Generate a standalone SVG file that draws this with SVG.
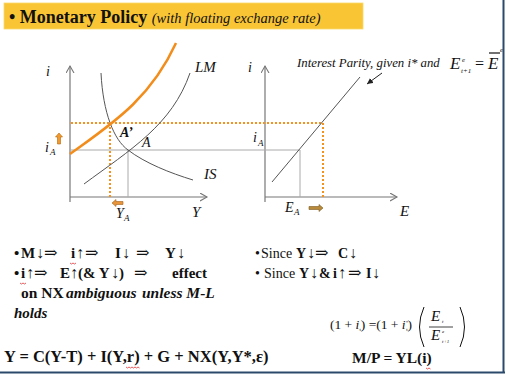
<svg xmlns="http://www.w3.org/2000/svg" width="506" height="375" viewBox="0 0 506 375">
<defs>
<marker id="open" markerWidth="10" markerHeight="10" refX="7" refY="4" orient="auto" markerUnits="userSpaceOnUse">
<path d="M0,0 L7,4 L0,8" fill="none" stroke="#777" stroke-width="1.1"/>
</marker>
<marker id="solid" markerWidth="8" markerHeight="8" refX="6" refY="3" orient="auto" markerUnits="userSpaceOnUse">
<path d="M0,0 L6,3 L0,6 Z" fill="#222"/>
</marker>
<style>
text{font-family:"Liberation Serif","DejaVu Serif",serif;fill:#111}
.it{font-style:italic}
.b{font-weight:bold}
.ar{font-weight:normal;font-size:16px}
.ax{stroke:#777;stroke-width:1.2;fill:none}
.cur{stroke:#555;stroke-width:1;fill:none}
.guide{stroke:#aaa;stroke-width:1;fill:none}
.dot{stroke:#F5921E;stroke-width:2;stroke-dasharray:2,2;fill:none}
.orange{stroke:#F28C1A;stroke-width:2.5;fill:none}
.sq{stroke:#d33;stroke-width:0.8;fill:none}
</style>
</defs>
<rect width="506" height="375" fill="#fff"/>
<g id="header">
<rect x="4" y="3" width="359" height="26" fill="#F9C535" stroke="#FBD96A" stroke-width="0.8"/>
<text x="9" y="23" class="b" font-size="18">• Monetary Policy <tspan class="it" font-weight="normal" font-size="14.5">(with floating exchange rate)</tspan></text>
</g>
<g id="connectors">
<line class="ax" x1="70" y1="202" x2="70" y2="66" marker-end="url(#open)"/>
<line class="ax" x1="70" y1="197" x2="207" y2="197" marker-end="url(#open)"/>
<line class="ax" x1="265" y1="202" x2="265" y2="66" marker-end="url(#open)"/>
<line class="ax" x1="265" y1="197" x2="397" y2="197" marker-end="url(#open)"/>
<line class="guide" x1="70" y1="150" x2="300" y2="150"/>
<line class="guide" x1="128" y1="150" x2="128" y2="197"/>
<line class="guide" x1="300" y1="150" x2="300" y2="197"/>
<path class="dot" d="M71,123 H323 V197"/>
<path class="dot" d="M110,123 V197"/>
<line x1="382" y1="73" x2="367" y2="84" stroke="#222" stroke-width="1" marker-end="url(#solid)"/>
</g>
<g id="curve-IS"><path class="cur" d="M101,73 C103,113 114,140 128,150 C145,163 170,173 193,180"/></g>
<g id="curve-LM"><path class="cur" d="M84,184 C130,150 172,125 190,73"/></g>
<g id="curve-LM-new"><path class="orange" d="M70,154 C110,125 150,100 176,43"/></g>
<g id="curve-IP"><line class="cur" x1="272" y1="182" x2="360" y2="77"/></g>
<g id="labels-left">
<text x="46" y="76" class="it" font-size="14">i</text>
<text x="45" y="152" class="it" font-size="14">i</text><text x="50" y="155" class="it" font-size="9">A</text>
<polygon points="59,133 62.5,137 60.5,137 60.5,144 57.5,144 57.5,137 55.5,137" fill="#F39A2E" stroke="#B0660F" stroke-width="0.6"/>
<text x="195" y="72" class="it" font-size="15">LM</text>
<text x="204" y="179" class="it" font-size="15">IS</text>
<text x="120" y="137" class="it b" font-size="14">A’</text>
<text x="142" y="147" class="it" font-size="14">A</text>
<polygon points="112,203 116,199.5 116,201.5 123,201.5 123,204.5 116,204.5 116,206.5" fill="#E8943A" stroke="#A4621A" stroke-width="0.6"/>
<text x="116" y="218" class="it" font-size="14">Y</text><text x="124" y="221" class="it" font-size="9">A</text>
<text x="192" y="217" class="it" font-size="15">Y</text>
</g>
<g id="labels-right">
<text x="248" y="72" class="it" font-size="14">i</text>
<text x="253" y="142" class="it" font-size="14">i</text><text x="258" y="146" class="it" font-size="9">A</text>
<text x="285" y="212" class="it" font-size="14">E</text><text x="294" y="215" class="it" font-size="9">A</text>
<polygon points="323,208 319,204.5 319,206.5 309,206.5 309,209.5 319,209.5 319,211.5" fill="#B98A3A" stroke="#7A5A20" stroke-width="0.6"/>
<text x="400" y="216" class="it" font-size="15">E</text>
<text x="297" y="67" class="it" font-size="12.8">Interest Parity, given i* and</text>
<text x="450" y="69" class="it" font-size="17">E</text>
<text x="462" y="62" class="it" font-size="7">e</text>
<text x="461" y="73" class="it" font-size="7">t+1</text>
<text x="475" y="69" font-size="16">=</text>
<text x="488" y="69" class="it" font-size="17">E</text>
<line x1="489" y1="53" x2="500" y2="53" stroke="#111" stroke-width="1.2"/>
<text x="500" y="52" class="it" font-size="7">e</text>
</g>
<g id="text-left">
<text y="258" class="b" font-size="15"><tspan x="14">•</tspan><tspan x="21">M</tspan><tspan x="36" class="ar">↓</tspan><tspan x="44" class="ar">⇒</tspan><tspan x="71">i</tspan><tspan x="76" class="ar">↑</tspan><tspan x="85" class="ar">⇒</tspan><tspan x="115">I</tspan><tspan x="122" class="ar">↓</tspan><tspan x="136" class="ar">⇒</tspan><tspan x="165">Y</tspan><tspan x="177" class="ar">↓</tspan></text>
<text y="278" class="b" font-size="15"><tspan x="14">•</tspan><tspan x="21">i</tspan><tspan x="26" class="ar">↑</tspan><tspan x="34" class="ar">⇒</tspan><tspan x="60">E</tspan><tspan x="70" class="ar">↑</tspan><tspan x="78">(&amp; Y</tspan><tspan x="111" class="ar">↓</tspan><tspan x="119">)</tspan><tspan x="134" class="ar">⇒</tspan><tspan x="172">effect</tspan></text>
<text y="298" class="b" font-size="15.5"><tspan x="21">on NX</tspan><tspan x="66" class="it">ambiguous</tspan><tspan x="142" class="it">unless M-L</tspan></text>
<text x="14" y="318" class="b it" font-size="15">holds</text>
<path class="sq" d="M70,263 l1.5,1 l1.5,-1 l1.5,1 l1.5,-1"/>
<path class="sq" d="M20,283 l1.5,1 l1.5,-1 l1.5,1 l1.5,-1"/>
</g>
<g id="text-right">
<text y="258" font-size="14"><tspan x="255">•</tspan><tspan x="261">Since</tspan><tspan x="296" class="b">Y</tspan><tspan x="307" class="ar">↓</tspan><tspan x="315" class="ar">⇒</tspan><tspan x="338" class="b">C</tspan><tspan x="349" class="ar">↓</tspan></text>
<text y="278" font-size="14"><tspan x="255">•</tspan><tspan x="264">Since</tspan><tspan x="299" class="b">Y</tspan><tspan x="310" class="ar">↓</tspan><tspan x="319" class="b">&amp;</tspan><tspan x="333" class="b">i</tspan><tspan x="338" class="ar">↑</tspan><tspan x="348" class="ar">⇒</tspan><tspan x="366" class="b">I</tspan><tspan x="372" class="ar">↓</tspan></text>
</g>
<g id="equation-ip">
<text x="330" y="329" font-size="13.5">(1 + <tspan class="it">i</tspan><tspan font-size="5" dy="2">t</tspan><tspan dy="-2">) =(1 + </tspan><tspan class="it">i</tspan><tspan font-size="5" dy="-5">*</tspan><tspan font-size="5" dy="7" dx="-2">t</tspan><tspan dy="-2">)</tspan></text>
<path d="M424,307 Q415,327 424,347" fill="none" stroke="#111" stroke-width="1"/>
<path d="M460,307 Q469,327 460,347" fill="none" stroke="#111" stroke-width="1"/>
<text x="431" y="321" class="it" font-size="15">E</text><text x="442" y="323" class="it" font-size="5">t</text>
<line x1="429" y1="327" x2="453" y2="327" stroke="#111" stroke-width="0.8"/>
<text x="431" y="340" class="it" font-size="15">E</text><text x="442" y="333" class="it" font-size="5">e</text><text x="442" y="343" class="it" font-size="5">t+1</text>
</g>
<g id="equations-bottom">
<text x="4" y="362" class="b" font-size="16.5">Y = C(Y-T) + I(Y,r) + G + NX(Y,Y*,ε)</text>
<text x="352" y="363" class="b" font-size="15.5">M/P = YL(i)</text>
<path class="sq" d="M126,367 l1.5,1 l1.5,-1 l1.5,1 l1.5,-1 l1.5,1 l1.5,-1 l1.5,1 l1.5,-1 l1.5,1"/>
<path class="sq" d="M426,368 l1.5,1 l1.5,-1 l1.5,1"/>
</g>
<g id="frame">
<line x1="503.5" y1="0" x2="503.5" y2="373" stroke="#2B4A6B" stroke-width="2"/>
<line x1="0" y1="372.5" x2="505" y2="372.5" stroke="#2B4A6B" stroke-width="2"/>
</g>
</svg>
